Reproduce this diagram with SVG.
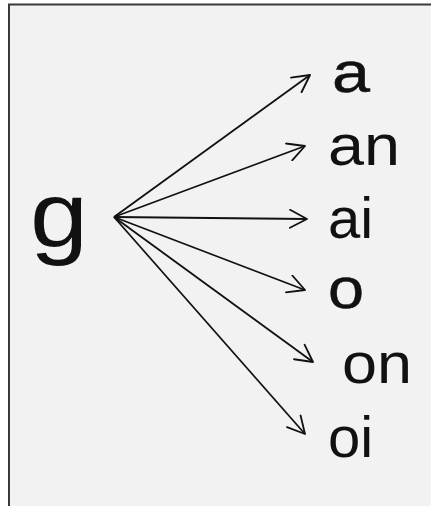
<svg xmlns="http://www.w3.org/2000/svg" width="431" height="506" viewBox="0 0 431 506">
<defs>
<style>
.lbl{font-family:"Liberation Sans","DejaVu Sans",sans-serif;font-size:58px;fill:#111;}
.bold{stroke:#111;stroke-width:0.5;}
.edge{stroke:#111;stroke-width:1.8;fill:none;marker-end:url(#arr);}
</style>
<marker id="arr" viewBox="0 0 20 20" refX="18" refY="10" markerWidth="20" markerHeight="20" markerUnits="userSpaceOnUse" orient="auto">
<path d="M1,1 L18,10 L1,19" fill="none" stroke="#111" stroke-width="1.8" stroke-linejoin="round" stroke-linecap="round"/>
</marker>
</defs>
<rect x="0" y="0" width="431" height="506" fill="#ffffff"/>
<rect x="9" y="4.5" width="440" height="520" fill="#f2f2f2" stroke="#3a3a3a" stroke-width="2"/>
<g id="connectors">
<line class="edge" x1="114" y1="217" x2="310" y2="75"/>
<line class="edge" x1="114" y1="217" x2="305" y2="146"/>
<line class="edge" x1="114" y1="217" x2="307" y2="219"/>
<line class="edge" x1="114" y1="217" x2="305" y2="290"/>
<line class="edge" x1="114" y1="217" x2="313" y2="362"/>
<line class="edge" x1="114" y1="217" x2="305" y2="434"/>
</g>
<g id="node-g"><text class="lbl" x="30" y="247" style="font-size:92px" textLength="58" lengthAdjust="spacingAndGlyphs">g</text></g>
<g id="node-a"><text class="lbl bold" x="332" y="92" textLength="38" lengthAdjust="spacingAndGlyphs">a</text></g>
<g id="node-an"><text class="lbl" x="328" y="165" textLength="72" lengthAdjust="spacingAndGlyphs">an</text></g>
<g id="node-ai"><text class="lbl" x="328" y="238">ai</text></g>
<g id="node-o"><text class="lbl bold" x="328" y="308" textLength="36" lengthAdjust="spacingAndGlyphs">o</text></g>
<g id="node-on"><text class="lbl" x="342" y="383" textLength="70" lengthAdjust="spacingAndGlyphs">on</text></g>
<g id="node-oi"><text class="lbl" x="328" y="457">oi</text></g>
</svg>
